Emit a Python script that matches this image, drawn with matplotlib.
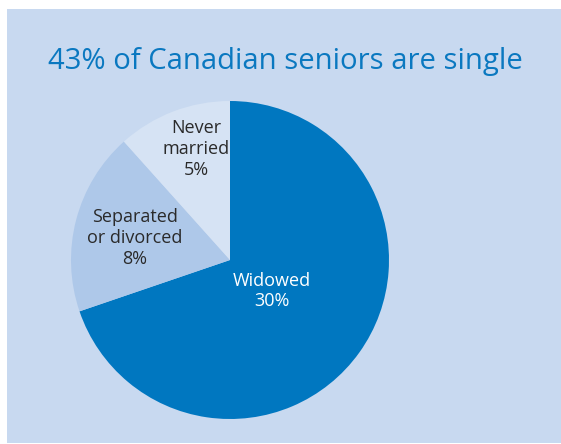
import matplotlib
matplotlib.use("Agg")
import matplotlib.pyplot as plt
from matplotlib.patches import Rectangle

FONT = "Open Sans"

title = "43% of Canadian seniors are single"
categories = ["Widowed", "Separated\nor divorced", "Never\nmarried"]
values = [30, 8, 5]
colors = ["#0077c0", "#aec8e9", "#d6e3f4"]
label_colors = ["white", "#2a2a2a", "#2a2a2a"]

W, H = 561, 444
fig = plt.figure(figsize=(W / 100, H / 100), dpi=100)
fig.patch.set_facecolor("white")
fig.patches.append(Rectangle((7 / W, 1 / H), 1.0, (H - 10) / H, transform=fig.transFigure,
                             facecolor="#c8d9f0", edgecolor="none", zorder=-5))

ax = fig.add_axes([0, 0, 1, 1], zorder=1)
ax.patch.set_alpha(0)

cx, cy, r = 230, H - 260, 159
wedges, texts = ax.pie(values, colors=colors, startangle=90, counterclock=False,
                       center=(cx, cy), radius=r, frame=True,
                       wedgeprops=dict(linewidth=0))
ax.set_xlim(0, W)
ax.set_ylim(0, H)
ax.set_aspect("equal")
ax.axis("off")

label_pos = [(272, H - 291), (135, H - 238), (196, H - 149)]
for cat, v, (x, y), c in zip(categories, values, label_pos, label_colors):
    ax.text(x, y, f"{cat}\n{v}%", ha="center", va="center", fontsize=13,
            color=c, family=FONT, linespacing=1.18)

ax.text(285, H - 62, title, ha="center", va="center", fontsize=21.1,
        color="#0a78c0", family=FONT)

fig.savefig("out.png", dpi=100)
